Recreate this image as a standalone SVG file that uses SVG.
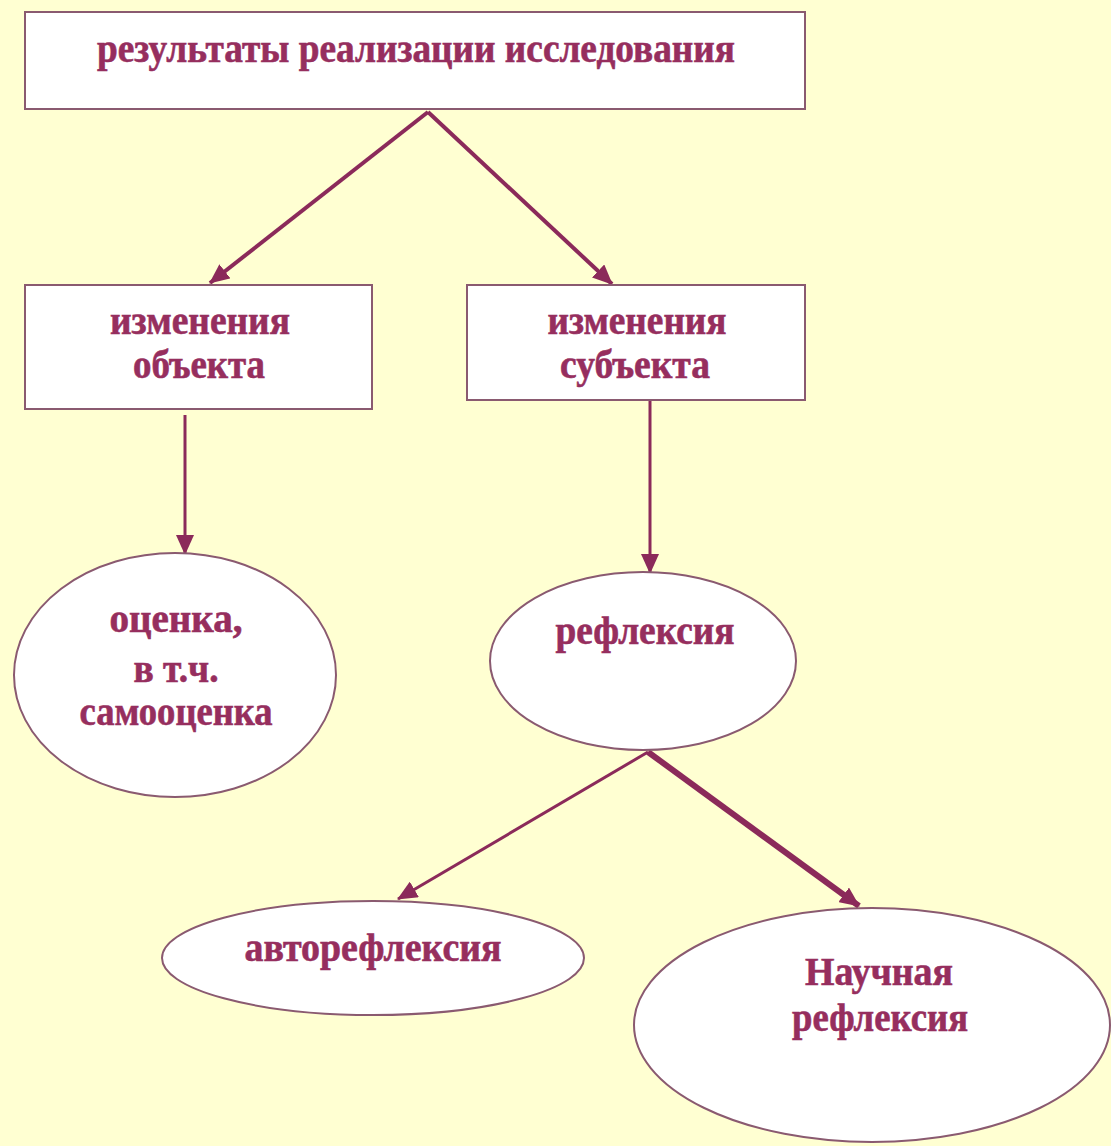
<svg xmlns="http://www.w3.org/2000/svg" width="1111" height="1146" viewBox="0 0 1111 1146">
<style>
.box{fill:#FFFFFF;stroke:#8A5A70;stroke-width:2}
.t{font-family:"Liberation Serif","Times New Roman",serif;font-weight:bold;font-size:39px;fill:#962E5E;stroke:#962E5E;stroke-width:0.6;text-anchor:middle}
.c{stroke:#8B2A5A;fill:none}
</style>
<defs>
<marker id="ah" viewBox="0 0 20 18" refX="19" refY="9" markerWidth="20" markerHeight="18" markerUnits="userSpaceOnUse" orient="auto">
<path d="M0,0 L20,9 L0,18 Z" fill="#8B2A5A"/>
</marker>
</defs>
<rect width="1111" height="1146" fill="#FFFFD2"/>
<g id="connectors">
<line class="c" x1="428" y1="112" x2="210" y2="283" stroke-width="4" marker-end="url(#ah)"/>
<line class="c" x1="428" y1="112" x2="612" y2="284" stroke-width="4" marker-end="url(#ah)"/>
<line class="c" x1="185" y1="415" x2="185" y2="554" stroke-width="3" marker-end="url(#ah)"/>
<line class="c" x1="650" y1="400" x2="650" y2="573" stroke-width="3" marker-end="url(#ah)"/>
<line class="c" x1="648" y1="752" x2="398" y2="899" stroke-width="3" marker-end="url(#ah)"/>
<line class="c" x1="648" y1="752" x2="859" y2="906" stroke-width="6" marker-end="url(#ah)"/>
</g>
<g id="n1">
<rect class="box" x="25" y="12" width="780" height="97"/>
<text class="t" x="416" y="62" textLength="638" lengthAdjust="spacingAndGlyphs">результаты реализации исследования</text>
</g>
<g id="n2">
<rect class="box" x="25" y="285" width="347" height="124"/>
<text class="t" x="200" y="334" textLength="180" lengthAdjust="spacingAndGlyphs">изменения</text>
<text class="t" x="199" y="378" textLength="132" lengthAdjust="spacingAndGlyphs">объекта</text>
</g>
<g id="n3">
<rect class="box" x="467" y="285" width="338" height="115"/>
<text class="t" x="637" y="334" textLength="179" lengthAdjust="spacingAndGlyphs">изменения</text>
<text class="t" x="635" y="378" textLength="150" lengthAdjust="spacingAndGlyphs">субъекта</text>
</g>
<g id="n4">
<ellipse class="box" cx="175" cy="675" rx="161" ry="122"/>
<text class="t" x="176" y="632" textLength="133" lengthAdjust="spacingAndGlyphs">оценка,</text>
<text class="t" x="176" y="682" textLength="85" lengthAdjust="spacingAndGlyphs">в т.ч.</text>
<text class="t" x="176" y="725" textLength="193" lengthAdjust="spacingAndGlyphs">самооценка</text>
</g>
<g id="n5">
<ellipse class="box" cx="643" cy="661" rx="153" ry="89"/>
<text class="t" x="645" y="644" textLength="179" lengthAdjust="spacingAndGlyphs">рефлексия</text>
</g>
<g id="n6">
<ellipse class="box" cx="373" cy="958" rx="211" ry="57"/>
<text class="t" x="373" y="961" textLength="257" lengthAdjust="spacingAndGlyphs">авторефлексия</text>
</g>
<g id="n7">
<ellipse class="box" cx="872" cy="1025" rx="238" ry="117"/>
<text class="t" x="879" y="985" textLength="148" lengthAdjust="spacingAndGlyphs">Научная</text>
<text class="t" x="880" y="1031" textLength="176" lengthAdjust="spacingAndGlyphs">рефлексия</text>
</g>
</svg>
